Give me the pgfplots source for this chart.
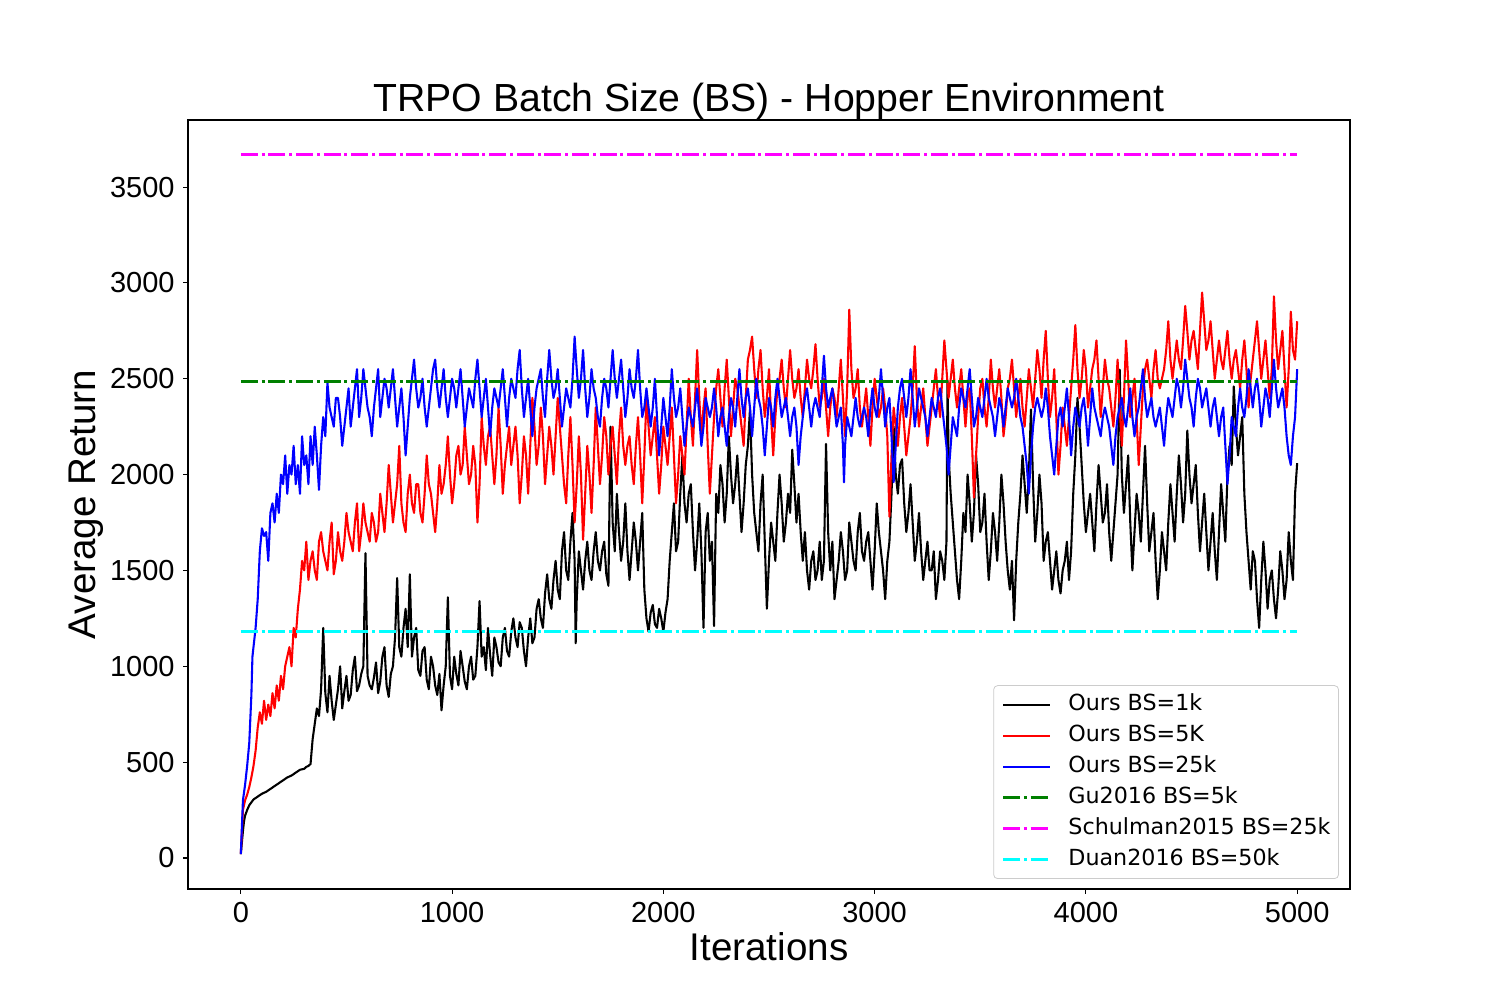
\documentclass[border=0pt]{standalone}
\usepackage{fontspec}
\setmainfont{Liberation Sans}
\newfontfamily\djv{DejaVu Sans}
\usepackage{pgfplots}
\pgfplotsset{compat=1.18}
\definecolor{mplgreen}{RGB}{0,128,0}
\definecolor{mplmag}{RGB}{255,0,255}
\definecolor{mplcyan}{RGB}{0,255,255}
\definecolor{mplred}{RGB}{255,0,0}
\definecolor{mplblue}{RGB}{0,0,255}
\begin{document}
\begin{tikzpicture}
\useasboundingbox (-94pt,-55.5pt) rectangle (656pt,444.5pt);
\begin{axis}[
  scale only axis, width=581pt, height=384.5pt,
  xmin=-250, xmax=5250, ymin=-162, ymax=3850,
  xtick={0,1000,2000,3000,4000,5000},
  ytick={0,500,1000,1500,2000,2500,3000,3500},
  xtick pos=bottom, ytick pos=left,
  tick align=outside, major tick length=2.43pt,
  tick style={black, line width=0.56pt},
  axis line style={line width=0.56pt},
  /pgf/number format/assume math mode=true,
  /pgf/number format/set thousands separator={},
  ticklabel style={font=\fontsize{14.5}{17}\selectfont},
  xticklabel style={anchor=base, yshift=-14.1pt},
  yticklabel style={anchor=east, inner sep=0pt, xshift=-4.1pt},
  every axis title shift=0pt,
  title={TRPO Batch Size (BS) - Hopper Environment},
  title style={at={(axis description cs:0.5,1)}, anchor=base, yshift=4.2pt, font=\fontsize{19.6}{23}\selectfont, inner sep=0pt},
  xlabel={Iterations},
  xlabel style={at={(axis description cs:0.5,0)}, anchor=base, yshift=-36pt, font=\fontsize{19.3}{23}\selectfont, inner sep=0pt},
  ylabel={Average Return},
  ylabel style={at={([xshift=-46.2pt]axis description cs:0,0.5)}, anchor=base, rotate=0, font=\fontsize{19.3}{23}\selectfont, inner sep=0pt},
  legend cell align=left,
  legend image code/.code={\draw[#1] (0pt,0pt) -- (23.5pt,0pt);},
  legend style={at={(axis description cs:0.9905,0.013)}, anchor=south east,
    draw=white!80!black, rounded corners=2pt, fill=white, fill opacity=0.8, text opacity=1,
    font=\djv\fontsize{11.1}{13}\selectfont, inner xsep=4pt, inner ysep=4pt,
    row sep=4.5pt, column sep=8.5pt,
    nodes={inner sep=0pt, text height=8.5pt, text depth=2.5pt}},
  every axis plot/.append style={line join=round},
]
% Ours BS=1k
\addplot[black, line width=1.04pt] coordinates {
(0,20) (5,80) (10,140) (15,190) (20,220) (30,250) (40,275) (50,290) (60,305) (80,320)
(100,335) (120,345) (140,360) (160,375) (180,390) (200,405) (220,420) (240,430) (260,445) (280,460)
(300,465) (310,475) (320,480) (330,490) (340,620) (350,700) (360,780) (370,740) (380,880) (390,1200)
(400,860) (410,760) (420,950) (430,820) (440,720) (450,800) (460,880) (470,1000) (480,780) (490,870)
(500,950) (510,820) (520,850) (530,980) (540,1050) (550,870) (560,900) (570,960) (580,1000) (590,1590)
(600,950) (610,900) (620,880) (630,940) (640,1020) (650,860) (660,920) (670,1050) (680,1100) (690,900)
(700,840) (710,960) (720,1000) (730,1150) (740,1460) (750,1100) (760,1050) (770,1200) (780,1300) (790,1100)
(800,1480) (810,1050) (820,1150) (830,1200) (840,980) (850,950) (860,1080) (870,1100) (880,930) (890,880)
(900,1050) (910,1000) (920,900) (930,850) (940,960) (950,770) (960,900) (970,1000) (980,1360) (990,950)
(1000,880) (1010,1050) (1020,960) (1030,900) (1040,1080) (1050,1000) (1060,920) (1070,880) (1080,1000) (1090,1050)
(1100,930) (1110,950) (1120,1100) (1130,1340) (1140,1050) (1150,1100) (1160,980) (1170,1200) (1180,1060) (1190,950)
(1200,1150) (1210,1100) (1220,1020) (1230,1000) (1240,1150) (1250,1200) (1260,1080) (1270,1050) (1280,1180) (1290,1250)
(1300,1150) (1310,1100) (1320,1230) (1330,1200) (1340,1080) (1350,1000) (1360,1150) (1370,1250) (1380,1120) (1390,1150)
(1400,1300) (1410,1350) (1420,1250) (1430,1200) (1440,1380) (1450,1480) (1460,1350) (1470,1300) (1480,1450) (1490,1550)
(1500,1400) (1510,1350) (1520,1600) (1530,1700) (1540,1500) (1550,1450) (1560,1650) (1570,1800) (1580,1550) (1585,1120)
(1590,1350) (1600,1600) (1610,1500) (1620,1400) (1630,1550) (1640,1650) (1650,1500) (1660,1450) (1670,1600) (1680,1700)
(1690,1550) (1700,1500) (1710,1600) (1720,1650) (1730,1480) (1740,1420) (1750,2250) (1760,1750) (1770,1600) (1780,1900)
(1790,1700) (1800,1550) (1810,1650) (1820,1850) (1830,1600) (1840,1450) (1850,1600) (1860,1750) (1870,1650) (1880,1500)
(1890,1650) (1900,1800) (1910,1400) (1920,1250) (1930,1180) (1940,1280) (1950,1320) (1960,1220) (1970,1200) (1980,1300)
(1990,1250) (2000,1180) (2010,1280) (2020,1350) (2030,1550) (2040,1700) (2050,1850) (2060,1600) (2070,1650) (2080,1900)
(2090,2100) (2100,1850) (2110,1750) (2120,1900) (2130,1950) (2140,1700) (2150,1500) (2160,1650) (2170,1850) (2180,1600)
(2190,1200) (2200,1700) (2210,1800) (2220,1550) (2230,1650) (2240,1210) (2250,1900) (2260,1800) (2270,2050) (2280,1950)
(2290,1750) (2300,1900) (2310,2200) (2320,2000) (2330,1850) (2340,1950) (2350,2100) (2360,1900) (2370,1700) (2380,1850)
(2390,2050) (2400,2150) (2410,2340) (2420,2000) (2430,1800) (2440,1700) (2450,1600) (2460,1850) (2470,2000) (2480,1650)
(2490,1300) (2500,1550) (2510,1750) (2520,1650) (2530,1550) (2540,1800) (2550,2000) (2560,1850) (2570,1650) (2580,1750)
(2590,1900) (2600,1800) (2610,2130) (2620,1950) (2630,1750) (2640,1900) (2650,1700) (2660,1550) (2670,1700) (2680,1500)
(2690,1400) (2700,1550) (2710,1600) (2720,1450) (2730,1500) (2740,1650) (2750,1450) (2760,1550) (2770,2160) (2780,1700)
(2790,1500) (2800,1650) (2810,1350) (2820,1450) (2830,1550) (2840,1700) (2850,1600) (2860,1450) (2870,1500) (2880,1750)
(2890,1650) (2900,1550) (2910,1500) (2920,1700) (2930,1800) (2940,1600) (2950,1550) (2960,1650) (2970,1700) (2980,1550)
(2990,1400) (3000,1600) (3010,1850) (3020,1700) (3030,1600) (3040,1500) (3050,1350) (3060,1550) (3070,1650) (3080,1900)
(3090,2250) (3100,2000) (3110,1900) (3120,2050) (3130,2080) (3140,1850) (3150,1700) (3160,1800) (3170,1950) (3180,1750)
(3190,1550) (3200,1650) (3210,1800) (3220,1600) (3230,1450) (3240,1550) (3250,1650) (3260,1500) (3270,1500) (3280,1600)
(3290,1350) (3300,1450) (3310,1600) (3320,1550) (3330,1450) (3340,1650) (3345,2490) (3350,2100) (3360,1900) (3370,1750)
(3380,1600) (3390,1450) (3400,1350) (3410,1550) (3420,1800) (3430,1700) (3440,2000) (3450,1850) (3460,1650) (3470,1800)
(3480,2100) (3490,1950) (3500,1700) (3510,1750) (3520,1900) (3530,1650) (3540,1450) (3550,1600) (3560,1800) (3570,1700)
(3580,1550) (3590,1750) (3600,2000) (3610,1850) (3620,1650) (3630,1500) (3640,1400) (3650,1550) (3660,1240) (3670,1550)
(3680,1750) (3690,1900) (3700,2100) (3710,1950) (3720,1800) (3730,2000) (3740,2340) (3750,1950) (3760,1650) (3770,1800)
(3780,2000) (3790,1850) (3800,1550) (3810,1650) (3820,1700) (3830,1550) (3840,1400) (3850,1500) (3860,1600) (3870,1450)
(3880,1380) (3890,1500) (3900,1550) (3910,1650) (3920,1450) (3930,1600) (3940,1900) (3950,2100) (3960,2400) (3970,2250)
(3980,2050) (3990,1850) (4000,1700) (4010,1800) (4020,1900) (4030,1750) (4040,1600) (4050,1850) (4060,2050) (4070,1900)
(4080,1750) (4090,1800) (4100,1950) (4110,1700) (4120,1550) (4130,1700) (4140,1850) (4150,2000) (4160,2547) (4170,2000)
(4180,1800) (4190,1950) (4200,2100) (4210,1750) (4220,1500) (4230,1700) (4240,1900) (4250,1800) (4260,1650) (4270,1900)
(4280,2150) (4290,1850) (4300,1600) (4310,1700) (4320,1800) (4330,1550) (4340,1350) (4350,1500) (4360,1700) (4370,1600)
(4380,1500) (4390,1750) (4400,1950) (4410,1800) (4420,1650) (4430,1900) (4440,2100) (4450,1950) (4460,1750) (4470,1900)
(4480,2230) (4490,2000) (4500,1850) (4510,1950) (4520,2050) (4530,1800) (4540,1600) (4550,1750) (4560,1900) (4570,1700)
(4580,1500) (4590,1650) (4600,1800) (4610,1600) (4620,1450) (4630,1700) (4640,1950) (4650,1800) (4660,1650) (4670,2000)
(4680,2150) (4690,2050) (4700,2460) (4710,2250) (4720,2100) (4730,2200) (4740,2300) (4750,1900) (4760,1700) (4770,1550)
(4780,1400) (4790,1600) (4800,1550) (4810,1350) (4820,1200) (4830,1450) (4840,1650) (4850,1500) (4860,1300) (4870,1450)
(4880,1500) (4890,1350) (4900,1250) (4910,1400) (4920,1600) (4930,1500) (4940,1350) (4950,1450) (4960,1700) (4970,1550)
(4980,1450) (4990,1900) (5000,2060)
};
\addlegendentry{Ours BS=1k}
% Ours BS=5K
\addplot[mplred, line width=1.04pt] coordinates {
(0,20) (10,250) (20,300) (30,330) (40,370) (50,420) (60,480) (70,560) (80,680) (90,760)
(100,700) (110,820) (120,720) (130,800) (140,740) (150,860) (160,780) (170,900) (180,820) (190,950)
(200,880) (210,1000) (220,1050) (230,1100) (240,1000) (250,1200) (260,1150) (270,1300) (280,1400) (290,1550)
(300,1500) (310,1650) (320,1450) (330,1550) (340,1600) (350,1500) (360,1450) (370,1650) (380,1700) (390,1600)
(400,1550) (410,1500) (420,1650) (430,1750) (440,1480) (450,1550) (460,1700) (470,1600) (480,1550) (490,1650)
(500,1800) (510,1700) (520,1650) (530,1600) (540,1750) (550,1850) (560,1600) (570,1700) (580,1850) (590,1750)
(600,1700) (610,1650) (620,1800) (630,1750) (640,1650) (650,1700) (660,1900) (670,1800) (680,1700) (690,1850)
(700,2050) (710,1900) (720,1750) (730,1850) (740,1950) (750,2150) (760,1850) (770,1750) (780,1700) (790,1900)
(800,2000) (810,1850) (820,1800) (830,1950) (840,1950) (850,1800) (860,1750) (870,1900) (880,2100) (890,1950)
(900,1900) (910,1800) (920,1700) (930,1850) (940,2050) (950,1900) (960,1950) (970,2050) (980,2200) (990,2000)
(1000,1850) (1010,1950) (1020,2100) (1030,2150) (1040,2000) (1050,2050) (1060,2250) (1070,2100) (1080,1950) (1090,2000)
(1100,2150) (1110,2050) (1120,1750) (1130,1950) (1140,2300) (1150,2150) (1160,2050) (1170,2200) (1180,2250) (1190,2100)
(1200,1950) (1210,2100) (1220,2350) (1230,2150) (1240,1900) (1250,2050) (1260,2150) (1270,2250) (1280,2050) (1290,2150)
(1300,2250) (1310,2100) (1320,1850) (1330,2000) (1340,2200) (1350,2100) (1360,1900) (1370,2150) (1380,2400) (1390,2250)
(1400,2050) (1410,2150) (1420,2350) (1430,2200) (1440,1950) (1450,2100) (1460,2250) (1470,2150) (1480,2000) (1490,2200)
(1500,2400) (1510,2250) (1520,2100) (1530,1950) (1540,1850) (1550,2100) (1560,2300) (1570,2050) (1580,1750) (1590,1950)
(1600,2200) (1610,2000) (1620,1660) (1630,1900) (1640,2150) (1650,2000) (1660,1800) (1670,2050) (1680,2350) (1690,2150)
(1700,1950) (1710,2100) (1720,2300) (1730,2200) (1740,2000) (1750,2150) (1760,2250) (1770,2100) (1780,1950) (1790,2200)
(1800,2350) (1810,2150) (1820,2050) (1830,2150) (1840,2200) (1850,2050) (1860,1950) (1870,2150) (1880,2300) (1890,2100)
(1900,1850) (1910,2100) (1920,2400) (1930,2250) (1940,2100) (1950,2200) (1960,2300) (1970,2100) (1980,1900) (1990,2050)
(2000,2250) (2010,2150) (2020,2050) (2030,2200) (2040,2350) (2050,2100) (2060,1850) (2070,2000) (2080,2200) (2090,2100)
(2100,2000) (2110,2250) (2120,2500) (2130,2300) (2140,2150) (2150,2400) (2160,2650) (2170,2400) (2180,2200) (2190,2350)
(2200,2450) (2210,2150) (2220,1900) (2230,2100) (2240,2300) (2250,2450) (2260,2550) (2270,2400) (2280,2250) (2290,2450)
(2300,2600) (2310,2400) (2320,2200) (2330,2350) (2340,2500) (2350,2450) (2360,2350) (2370,2250) (2380,2150) (2390,2400)
(2400,2600) (2410,2650) (2420,2720) (2430,2550) (2440,2400) (2450,2550) (2460,2650) (2470,2450) (2480,2300) (2490,2400)
(2500,2550) (2510,2300) (2520,2100) (2530,2300) (2540,2450) (2550,2500) (2560,2600) (2570,2450) (2580,2350) (2590,2500)
(2600,2650) (2610,2500) (2620,2400) (2630,2450) (2640,2550) (2650,2400) (2660,2300) (2670,2450) (2680,2600) (2690,2500)
(2700,2450) (2710,2550) (2720,2680) (2730,2500) (2740,2350) (2750,2400) (2760,2500) (2770,2350) (2780,2200) (2790,2350)
(2800,2450) (2810,2400) (2820,2300) (2830,2450) (2840,2600) (2850,2400) (2860,2200) (2870,2450) (2880,2860) (2890,2550)
(2900,2400) (2910,2450) (2920,2550) (2930,2350) (2940,2250) (2950,2350) (2960,2450) (2970,2300) (2980,2150) (2990,2350)
(3000,2500) (3010,2400) (3020,2300) (3030,2350) (3040,2450) (3050,2350) (3060,2200) (3070,1780) (3080,2100) (3090,2350)
(3100,2250) (3110,2150) (3120,2300) (3130,2400) (3140,2250) (3150,2100) (3160,2200) (3170,2300) (3180,2450) (3190,2670)
(3200,2400) (3210,2250) (3220,2350) (3230,2450) (3240,2300) (3250,2150) (3260,2250) (3270,2350) (3280,2450) (3290,2550)
(3300,2400) (3310,2300) (3320,2500) (3330,2700) (3340,2550) (3350,2400) (3360,2500) (3370,2600) (3380,2450) (3390,2350)
(3400,2450) (3410,2550) (3420,2400) (3430,2250) (3440,2400) (3450,2450) (3460,2200) (3470,1880) (3480,2100) (3490,2300)
(3500,2450) (3510,2500) (3520,2350) (3530,2250) (3540,2400) (3550,2600) (3560,2450) (3570,2350) (3580,2450) (3590,2550)
(3600,2400) (3610,2200) (3620,2300) (3630,2450) (3640,2500) (3650,2600) (3660,2450) (3670,2300) (3680,2400) (3690,2500)
(3700,2350) (3710,2250) (3720,2400) (3730,2550) (3740,2450) (3750,2350) (3760,2500) (3770,2650) (3780,2550) (3790,2400)
(3800,2600) (3810,2750) (3820,2500) (3830,2300) (3840,2400) (3850,2550) (3860,2300) (3870,2000) (3880,2150) (3890,2350)
(3900,2250) (3910,2150) (3920,2300) (3930,2450) (3940,2600) (3950,2780) (3960,2550) (3970,2400) (3980,2500) (3990,2650)
(4000,2550) (4010,2350) (4020,2450) (4030,2550) (4040,2600) (4050,2700) (4060,2500) (4070,2300) (4080,2450) (4090,2600)
(4100,2500) (4110,2450) (4120,2350) (4130,2250) (4140,2400) (4150,2600) (4160,2350) (4170,2150) (4180,2400) (4190,2700)
(4200,2500) (4210,2300) (4220,2400) (4230,2500) (4240,2300) (4250,2050) (4260,2250) (4270,2450) (4280,2550) (4290,2600)
(4300,2500) (4310,2400) (4320,2550) (4330,2650) (4340,2500) (4350,2450) (4360,2500) (4370,2550) (4380,2650) (4390,2800)
(4400,2600) (4410,2500) (4420,2600) (4430,2700) (4440,2600) (4450,2550) (4460,2700) (4470,2880) (4480,2750) (4490,2600)
(4500,2700) (4510,2750) (4520,2650) (4530,2550) (4540,2750) (4550,2950) (4560,2800) (4570,2650) (4580,2700) (4590,2800)
(4600,2650) (4610,2500) (4620,2600) (4630,2700) (4640,2600) (4650,2550) (4660,2650) (4670,2750) (4680,2600) (4690,2500)
(4700,2600) (4710,2650) (4720,2550) (4730,2450) (4740,2600) (4750,2700) (4760,2550) (4770,2350) (4780,2500) (4790,2600)
(4800,2700) (4810,2800) (4820,2650) (4830,2500) (4840,2600) (4850,2700) (4860,2550) (4870,2400) (4880,2550) (4890,2930)
(4900,2700) (4910,2550) (4920,2650) (4930,2750) (4940,2550) (4950,2350) (4960,2550) (4970,2850) (4980,2650) (4990,2600)
(5000,2800)
};
\addlegendentry{Ours BS=5K}
% Ours BS=25k
\addplot[mplblue, line width=1.04pt] coordinates {
(0,20) (10,300) (20,380) (30,480) (40,600) (50,850) (55,1050) (60,1100) (70,1200) (80,1350)
(90,1600) (100,1720) (110,1680) (120,1700) (130,1550) (140,1800) (150,1850) (160,1750) (170,1900) (180,1800)
(190,2000) (200,1950) (210,2100) (220,1900) (230,2050) (240,2000) (250,2150) (260,1950) (270,2050) (280,1900)
(290,2200) (300,2050) (310,2100) (320,1950) (330,2200) (340,2050) (350,2250) (360,2100) (370,1920) (380,2150)
(390,2300) (400,2200) (410,2480) (420,2350) (430,2300) (440,2250) (450,2400) (460,2400) (470,2300) (480,2150)
(490,2250) (500,2350) (510,2450) (520,2250) (530,2350) (540,2450) (550,2550) (560,2300) (570,2400) (580,2550)
(590,2450) (600,2350) (610,2300) (620,2200) (630,2350) (640,2450) (650,2550) (660,2300) (670,2400) (680,2500)
(690,2450) (700,2350) (710,2450) (720,2550) (730,2400) (740,2250) (750,2350) (760,2450) (770,2300) (780,2100)
(790,2250) (800,2400) (810,2500) (820,2600) (830,2450) (840,2350) (850,2400) (860,2500) (870,2350) (880,2250)
(890,2350) (900,2450) (910,2550) (920,2600) (930,2450) (940,2350) (950,2450) (960,2550) (970,2400) (980,2300)
(990,2400) (1000,2500) (1010,2450) (1020,2350) (1030,2450) (1040,2550) (1050,2400) (1060,2250) (1070,2350) (1080,2450)
(1090,2400) (1100,2350) (1110,2500) (1120,2600) (1130,2450) (1140,2300) (1150,2400) (1160,2500) (1170,2350) (1180,2200)
(1190,2350) (1200,2450) (1210,2400) (1220,2350) (1230,2450) (1240,2550) (1250,2400) (1260,2250) (1270,2400) (1280,2500)
(1290,2450) (1300,2400) (1310,2550) (1320,2650) (1330,2450) (1340,2300) (1350,2400) (1360,2500) (1370,2350) (1380,2200)
(1390,2350) (1400,2450) (1410,2500) (1420,2550) (1430,2400) (1440,2300) (1450,2500) (1460,2650) (1470,2500) (1480,2400)
(1490,2450) (1500,2550) (1510,2400) (1520,2250) (1530,2350) (1540,2450) (1550,2400) (1560,2350) (1570,2500) (1580,2720)
(1590,2550) (1600,2400) (1610,2500) (1620,2650) (1630,2450) (1640,2300) (1650,2400) (1660,2550) (1670,2450) (1680,2400)
(1690,2300) (1700,2250) (1710,2400) (1720,2500) (1730,2450) (1740,2350) (1750,2500) (1760,2650) (1770,2500) (1780,2400)
(1790,2500) (1800,2600) (1810,2450) (1820,2300) (1830,2400) (1840,2550) (1850,2450) (1860,2400) (1870,2500) (1880,2650)
(1890,2450) (1900,2300) (1910,2350) (1920,2450) (1930,2350) (1940,2250) (1950,2350) (1960,2500) (1970,2300) (1980,2100)
(1990,2250) (2000,2400) (2010,2300) (2020,2200) (2030,2350) (2040,2550) (2050,2400) (2060,2300) (2070,2350) (2080,2450)
(2090,2300) (2100,2150) (2110,2250) (2120,2350) (2130,2300) (2140,2250) (2150,2350) (2160,2450) (2170,2300) (2180,2150)
(2190,2250) (2200,2400) (2210,2350) (2220,2300) (2230,2350) (2240,2450) (2250,2350) (2260,2200) (2270,2300) (2280,2350)
(2290,2250) (2300,2150) (2310,2300) (2320,2400) (2330,2350) (2340,2250) (2350,2400) (2360,2550) (2370,2400) (2380,2300)
(2390,2400) (2400,2450) (2410,2350) (2420,2200) (2430,2350) (2440,2500) (2450,2400) (2460,2350) (2470,2250) (2480,2100)
(2490,2250) (2500,2400) (2510,2350) (2520,2250) (2530,2400) (2540,2500) (2550,2400) (2560,2300) (2570,2350) (2580,2400)
(2590,2300) (2600,2200) (2610,2300) (2620,2350) (2630,2250) (2640,2050) (2650,2200) (2660,2300) (2670,2400) (2680,2450)
(2690,2350) (2700,2250) (2710,2350) (2720,2400) (2730,2350) (2740,2300) (2750,2450) (2760,2620) (2770,2450) (2780,2350)
(2790,2400) (2800,2450) (2810,2350) (2820,2250) (2830,2300) (2840,2350) (2850,2150) (2855,1960) (2860,2150) (2870,2300)
(2880,2250) (2890,2200) (2900,2300) (2910,2400) (2920,2300) (2930,2250) (2940,2300) (2950,2350) (2960,2300) (2970,2200)
(2980,2350) (2990,2450) (3000,2350) (3010,2300) (3020,2400) (3030,2550) (3040,2400) (3050,2250) (3060,2350) (3070,2400)
(3080,2200) (3090,1960) (3100,2150) (3110,2350) (3120,2450) (3130,2500) (3140,2400) (3150,2300) (3160,2400) (3170,2550)
(3180,2400) (3190,2250) (3200,2350) (3210,2450) (3220,2400) (3230,2350) (3240,2300) (3250,2200) (3260,2300) (3270,2400)
(3280,2350) (3290,2300) (3300,2400) (3310,2450) (3320,2350) (3330,2250) (3340,2150) (3350,2000) (3360,2150) (3370,2300)
(3380,2250) (3390,2200) (3400,2350) (3410,2450) (3420,2400) (3430,2350) (3440,2450) (3450,2550) (3460,2400) (3470,2250)
(3480,2300) (3490,2400) (3500,2350) (3510,2300) (3520,2400) (3530,2500) (3540,2400) (3550,2350) (3560,2300) (3570,2200)
(3580,2300) (3590,2400) (3600,2350) (3610,2250) (3620,2350) (3630,2450) (3640,2400) (3650,2350) (3660,2400) (3670,2500)
(3680,2400) (3690,2300) (3700,2250) (3710,2150) (3720,2050) (3730,1900) (3740,2100) (3750,2250) (3760,2350) (3770,2400)
(3780,2350) (3790,2300) (3800,2350) (3810,2450) (3820,2350) (3830,2200) (3840,2100) (3850,2000) (3860,2150) (3870,2300)
(3880,2350) (3890,2250) (3900,2350) (3910,2450) (3920,2300) (3930,2100) (3940,2250) (3950,2350) (3960,2300) (3970,2250)
(3980,2350) (3990,2400) (4000,2300) (4010,2150) (4020,2300) (4030,2450) (4040,2350) (4050,2300) (4060,2250) (4070,2200)
(4080,2300) (4090,2350) (4100,2300) (4110,2250) (4120,2150) (4130,2050) (4140,2200) (4150,2300) (4160,2350) (4170,2400)
(4180,2300) (4190,2250) (4200,2350) (4210,2450) (4220,2300) (4230,2200) (4240,2300) (4250,2350) (4260,2450) (4270,2550)
(4280,2400) (4290,2300) (4300,2350) (4310,2400) (4320,2300) (4330,2250) (4340,2300) (4350,2350) (4360,2250) (4370,2150)
(4380,2300) (4390,2400) (4400,2350) (4410,2300) (4420,2400) (4430,2500) (4440,2450) (4450,2350) (4460,2450) (4470,2600)
(4480,2500) (4490,2400) (4500,2350) (4510,2250) (4520,2400) (4530,2500) (4540,2450) (4550,2350) (4560,2400) (4570,2450)
(4580,2350) (4590,2250) (4600,2350) (4610,2400) (4620,2300) (4630,2200) (4640,2300) (4650,2350) (4660,2150) (4670,1950)
(4680,2100) (4690,2300) (4700,2250) (4710,2200) (4720,2350) (4730,2450) (4740,2350) (4750,2300) (4760,2400) (4770,2550)
(4780,2450) (4790,2350) (4800,2450) (4810,2500) (4820,2400) (4830,2250) (4840,2350) (4850,2450) (4860,2400) (4870,2300)
(4880,2450) (4890,2600) (4900,2450) (4910,2350) (4920,2400) (4930,2450) (4940,2350) (4950,2200) (4960,2100) (4970,2050)
(4980,2200) (4990,2300) (5000,2550)
};
\addlegendentry{Ours BS=25k}
\addplot[mplgreen, line width=1.39pt, dash pattern=on 8.5pt off 1.9pt on 1.5pt off 1.9pt] coordinates {(0,2486) (5000,2486)};
\addlegendentry{Gu2016 BS=5k}
\addplot[mplmag, line width=1.39pt, dash pattern=on 8.5pt off 1.9pt on 1.5pt off 1.9pt] coordinates {(0,3668) (5000,3668)};
\addlegendentry{Schulman2015 BS=25k}
\addplot[mplcyan, line width=1.39pt, dash pattern=on 8.5pt off 1.9pt on 1.5pt off 1.9pt] coordinates {(0,1183) (5000,1183)};
\addlegendentry{Duan2016 BS=50k}
\end{axis}
\end{tikzpicture}
\end{document}
